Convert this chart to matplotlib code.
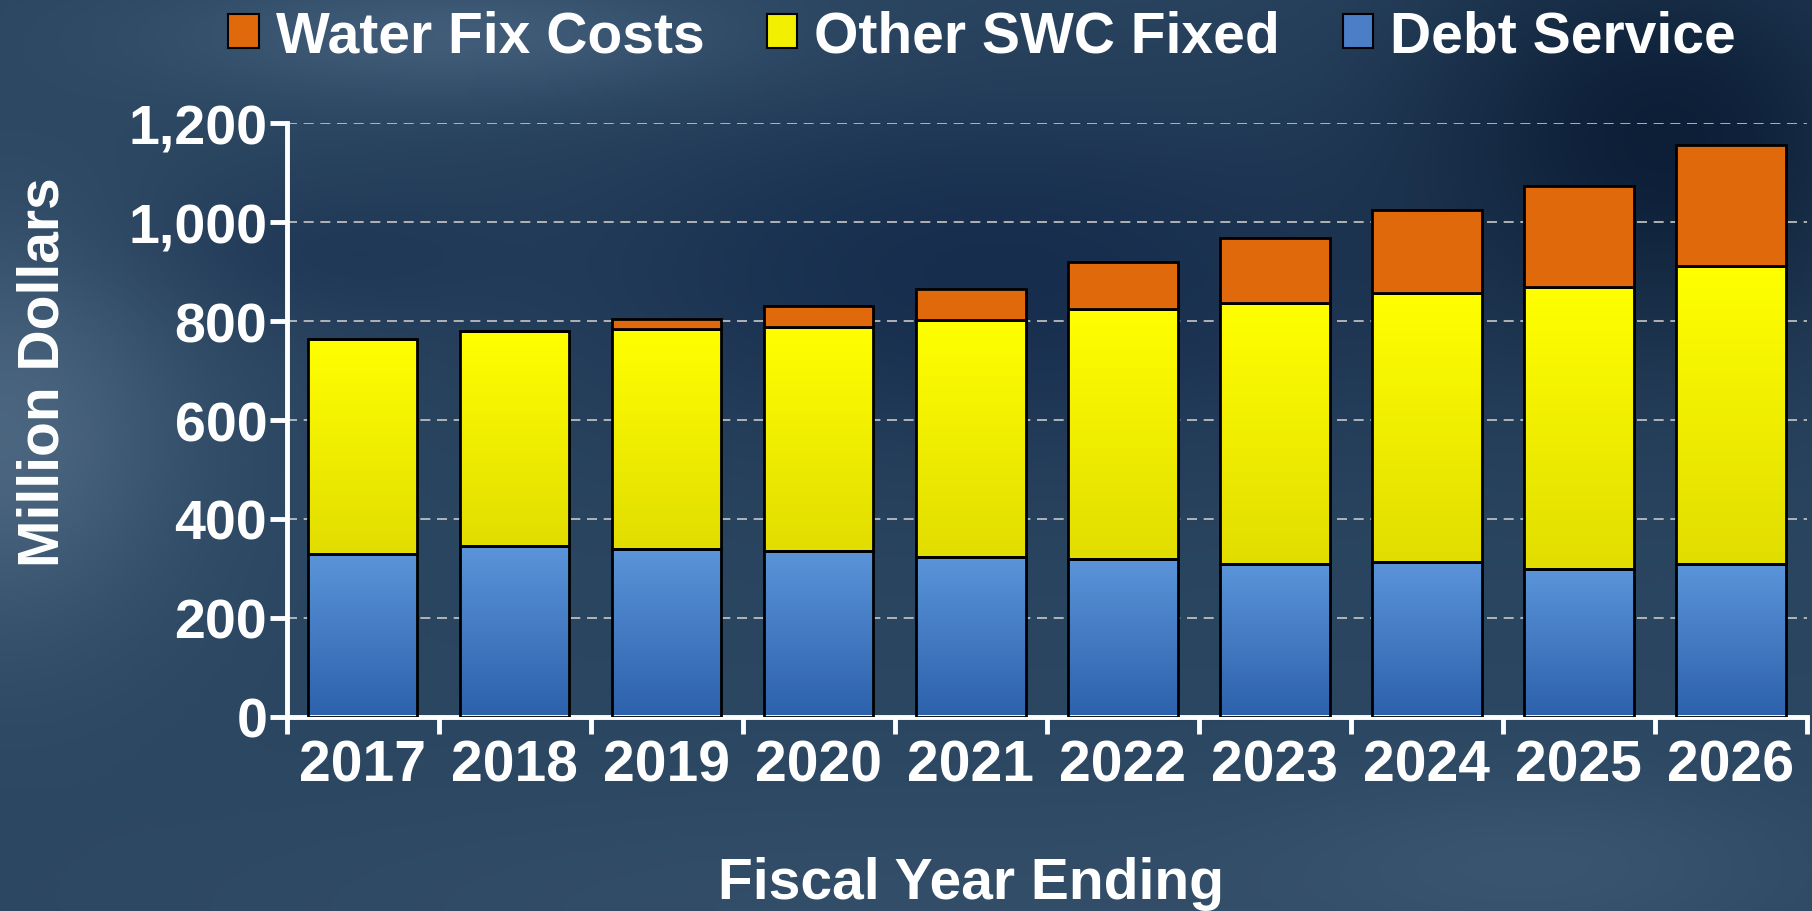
import numpy as np
import matplotlib.pyplot as plt
from matplotlib.patches import Patch
from matplotlib.colors import to_rgb, LinearSegmentedColormap

years = ['2017', '2018', '2019', '2020', '2021', '2022', '2023', '2024', '2025', '2026']
debt_service = [329, 345, 339, 336, 322, 318, 308, 313, 299, 308]
other_swc = [434, 435, 445, 453, 481, 506, 528, 544, 570, 603]
water_fix = [0, 0, 21, 42, 63, 96, 133, 168, 205, 245]
yticks = [0, 200, 400, 600, 800, 1000, 1200]

plt.rcParams['font.family'] = ['Liberation Sans', 'DejaVu Sans']
plt.rcParams['font.weight'] = 'bold'

fig = plt.figure(figsize=(18.12, 9.12), dpi=100)

# background: smooth dark blue field with a few lighter / darker patches
bg = fig.add_axes([0, 0, 1, 1], zorder=0)
gy, gx = np.mgrid[0:1:300j, 0:1:600j]
img = np.ones((300, 600, 3)) * np.array(to_rgb('#2b4661'))
blobs = [
    (0.55, 0.30, 0.25, 0.20, '#13294a', 0.85),
    (0.92, 0.15, 0.15, 0.25, '#0a1b33', 0.9),
    (0.25, 0.04, 0.16, 0.07, '#4a6682', 0.7),
    (0.18, 0.28, 0.12, 0.08, '#1b3453', 0.7),
    (0.00, 0.48, 0.10, 0.22, '#56708a', 0.75),
    (0.50, 1.00, 0.40, 0.14, '#3b556f', 0.5),
    (0.85, 0.95, 0.15, 0.10, '#45607a', 0.5),
]
for cx, cy, sx, sy, col, k in blobs:
    w = k * np.exp(-((gx - cx) / sx) ** 2 - ((gy - cy) / sy) ** 2)
    img = img * (1 - w[..., None]) + np.array(to_rgb(col)) * w[..., None]
bg.imshow(img, extent=[0, 1, 0, 1], aspect='auto', origin='upper')
bg.axis('off')

ax = fig.add_axes([0.1582, 0.2132, 0.9972 - 0.1582, 0.8635 - 0.2132], zorder=1)
ax.patch.set_alpha(0)

x = np.arange(len(years))
bw = 0.72
b1 = ax.bar(x, debt_service, bw, facecolor='none', edgecolor='black', lw=2, zorder=3)
b2 = ax.bar(x, other_swc, bw, bottom=debt_service, facecolor='none', edgecolor='black', lw=2, zorder=3)
bottom3 = np.array(debt_service) + np.array(other_swc)
b3 = ax.bar(x, water_fix, bw, bottom=bottom3, facecolor='#e06a0b', edgecolor='black', lw=2, zorder=3)

blue_cm = LinearSegmentedColormap.from_list('b', ['#2c61ab', '#5b94d9'])
yel_cm = LinearSegmentedColormap.from_list('y', ['#e2dd00', '#ffff00'])
grad = np.linspace(0, 1, 100).reshape(-1, 1)
for bars, cm in [(b1, blue_cm), (b2, yel_cm)]:
    for p in bars:
        x0, y0, w, h = p.get_x(), p.get_y(), p.get_width(), p.get_height()
        ax.imshow(grad, cmap=cm, extent=[x0, x0 + w, y0, y0 + h], origin='lower',
                  aspect='auto', zorder=2)

ax.set_xlim(-0.5, len(years) - 0.5)
ax.set_ylim(0, 1200)

ax.set_yticks(yticks)
ax.set_yticklabels([f"{v:,}" for v in yticks], fontsize=40, color='white', fontweight='bold')
ax.set_xticks(np.arange(-0.5, len(years), 1.0))
ax.set_xticklabels([])
ax.set_xticks(x, minor=True)
ax.set_xticklabels(years, minor=True, fontsize=41, color='white', fontweight='bold')
ax.tick_params(axis='x', which='major', length=12, width=3.5, color='white', direction='out')
ax.tick_params(axis='x', which='minor', length=0, pad=16)
ax.tick_params(axis='y', length=12, width=3.5, color='white', pad=2)

for s in ['top', 'right']:
    ax.spines[s].set_visible(False)
for s in ['left', 'bottom']:
    ax.spines[s].set_color('white')
    ax.spines[s].set_linewidth(3.5)

for v in yticks[1:]:
    ax.axhline(v, color='#c8c8c8', lw=1.2, linestyle=(0, (6, 4)), zorder=1)

fig.text(0.536, 0.031, 'Fiscal Year Ending', fontsize=41, color='white',
         fontweight='bold', ha='center', va='center')
fig.text(0.024, 0.592, 'Million Dollars', fontsize=41, color='white',
         fontweight='bold', ha='center', va='center', rotation=90)

handles = [Patch(facecolor='#e06a0b', edgecolor='black', lw=1.5),
           Patch(facecolor='#f2ef00', edgecolor='black', lw=1.5),
           Patch(facecolor='#4a7fc8', edgecolor='black', lw=1.5)]
labels = ['Water Fix Costs', 'Other SWC Fixed', 'Debt Service']
leg = fig.legend(handles, labels, loc='center', bbox_to_anchor=(0.542, 0.959), ncol=3,
                 frameon=False, fontsize=41, handlelength=0.53, handleheight=0.53,
                 handletextpad=0.3, columnspacing=1.1, borderpad=0)
for t in leg.get_texts():
    t.set_color('white')
    t.set_fontweight('bold')

fig.savefig('out.png', dpi=100)
